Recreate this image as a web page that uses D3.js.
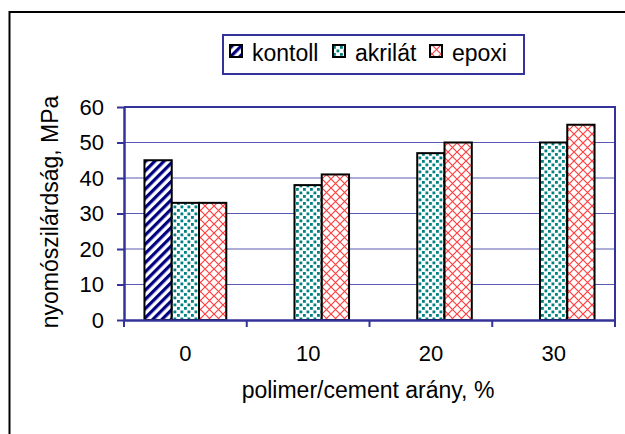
<!DOCTYPE html>
<html>
<head>
<meta charset="utf-8">
<script src="https://cdn.jsdelivr.net/npm/d3@7"></script>
<style>
  body { margin: 0; background: #fff; }
  text { font-family: "Liberation Sans", Arial, sans-serif; fill: #000; }
</style>
</head>
<body>
<svg id="chart" width="625" height="434"></svg>
<script>
// data
var categories = ["0", "10", "20", "30"];
var seriesNames = ["kontoll", "akrilát", "epoxi"];
var kontoll = [45, null, null, null];
var akrilat = [33, 38, 47, 50];
var epoxi = [33, 41, 50, 55];
var yTicks = [0, 10, 20, 30, 40, 50, 60];

var seriesValues = [kontoll, akrilat, epoxi];
var patternIds = ["pat-kontoll", "pat-akrilat", "pat-epoxi"];

var svg = d3.select("#chart");
var defs = svg.append("defs");

// kontoll: navy diagonal stripes
var p1 = defs.append("pattern")
  .attr("id", "pat-kontoll")
  .attr("patternUnits", "userSpaceOnUse")
  .attr("width", 6.5).attr("height", 6.5)
  .attr("patternTransform", "rotate(45)");
p1.append("rect").attr("width", 6.5).attr("height", 6.5).attr("fill", "#fff");
p1.append("rect").attr("width", 3.2).attr("height", 6.5).attr("fill", "#000080");

// akrilat: teal small squares, staggered
var p2 = defs.append("pattern")
  .attr("id", "pat-akrilat")
  .attr("patternUnits", "userSpaceOnUse")
  .attr("width", 7).attr("height", 7);
p2.append("rect").attr("width", 7).attr("height", 7).attr("fill", "#fff");
p2.append("rect").attr("x", 0.5).attr("y", 0.5).attr("width", 2.8).attr("height", 2.8).attr("fill", "#008080");
p2.append("rect").attr("x", 4).attr("y", 4).attr("width", 2.8).attr("height", 2.8).attr("fill", "#008080");

// epoxi: red crosshatch
var p3 = defs.append("pattern")
  .attr("id", "pat-epoxi")
  .attr("patternUnits", "userSpaceOnUse")
  .attr("width", 9).attr("height", 9);
p3.append("rect").attr("width", 9).attr("height", 9).attr("fill", "#fff");
p3.append("path").attr("d", "M0,0L9,9M9,0L0,9")
  .attr("stroke", "#ff4040").attr("stroke-width", 1.2).attr("fill", "none");

// outer frame (runs off the right and bottom edges)
svg.append("path")
  .attr("d", "M640,12H9.5V450")
  .attr("fill", "none").attr("stroke", "#000").attr("stroke-width", 2);

var margin = {left: 124, top: 107, right: 10, bottom: 114};
var width = 625 - margin.left - margin.right;
var height = 434 - margin.top - margin.bottom;

var x0 = d3.scaleBand().domain(categories).range([0, width]).paddingInner(0).paddingOuter(0);
var bw = x0.bandwidth() / 4.5;
var x1 = d3.scaleBand().domain(seriesNames).range([0, bw * 3]);
var y = d3.scaleLinear().domain([0, 60]).range([height, 0]);

var g = svg.append("g").attr("transform", "translate(" + margin.left + "," + margin.top + ")");

// gridlines
g.selectAll(".grid").data(yTicks.slice(1, -1)).enter().append("line")
  .attr("x1", 0).attr("x2", width)
  .attr("y1", function(d) { return y(d); }).attr("y2", function(d) { return y(d); })
  .attr("stroke", "#5a5ab4").attr("stroke-width", 1);

// plot border top/right
g.append("path")
  .attr("d", "M0," + y(60) + "H" + width + "V" + height)
  .attr("fill", "none").attr("stroke", "#333399").attr("stroke-width", 2);

// bars
seriesValues.forEach(function(vals, si) {
  var data = categories.map(function(c, i) { return {cat: c, v: vals[i]}; })
    .filter(function(d) { return d.v !== null; });
  g.selectAll(".bar" + si).data(data).enter().append("rect")
    .attr("x", function(d) { return x0(d.cat) + (x0.bandwidth() - bw * 3) / 2 + x1(seriesNames[si]); })
    .attr("y", function(d) { return y(d.v); })
    .attr("width", x1.bandwidth())
    .attr("height", function(d) { return height - y(d.v); })
    .attr("fill", "url(#" + patternIds[si] + ")")
    .attr("stroke", "#000").attr("stroke-width", 2);
});

// axes
var yAxis = g.append("g")
  .call(d3.axisLeft(y).tickValues(yTicks).tickSize(7).tickPadding(13).tickSizeOuter(0));
var xAxis = g.append("g").attr("transform", "translate(0," + height + ")")
  .call(d3.axisBottom(x0).tickSize(0).tickPadding(25).tickSizeOuter(0));
// x ticks at category boundaries
xAxis.selectAll(".sep").data(d3.range(categories.length + 1)).enter().append("line")
  .attr("x1", function(i) { return i * x0.step(); })
  .attr("x2", function(i) { return i * x0.step(); })
  .attr("y1", 0).attr("y2", 7)
  .attr("stroke", "#333399").attr("stroke-width", 2);

[yAxis, xAxis].forEach(function(a) {
  a.select(".domain").attr("stroke", "#333399").attr("stroke-width", 2.5);
  a.selectAll(".tick line").attr("stroke", "#333399").attr("stroke-width", 2);
  a.selectAll("text").attr("font-size", 22).attr("font-family", "Liberation Sans, Arial, sans-serif").attr("fill", "#000");
});

// axis titles
svg.append("text")
  .attr("transform", "translate(58,212) rotate(-90)")
  .attr("text-anchor", "middle")
  .attr("font-size", 23)
  .text("nyomószilárdság, MPa");
svg.append("text")
  .attr("x", 368).attr("y", 398)
  .attr("text-anchor", "middle")
  .attr("font-size", 23)
  .text("polimer/cement arány, %");

// legend
var legend = svg.append("g");
legend.append("rect")
  .attr("x", 223).attr("y", 35).attr("width", 301).attr("height", 39)
  .attr("fill", "#fff").attr("stroke", "#333399").attr("stroke-width", 2);
var legendX = [230, 333, 430];
seriesNames.forEach(function(name, i) {
  legend.append("rect")
    .attr("x", legendX[i]).attr("y", 45).attr("width", 12).attr("height", 12)
    .attr("fill", "url(#" + patternIds[i] + ")")
    .attr("stroke", "#000").attr("stroke-width", 2);
  legend.append("text")
    .attr("x", legendX[i] + 22).attr("y", 61)
    .attr("font-size", 23)
    .text(name);
});
</script>
</body>
</html>
